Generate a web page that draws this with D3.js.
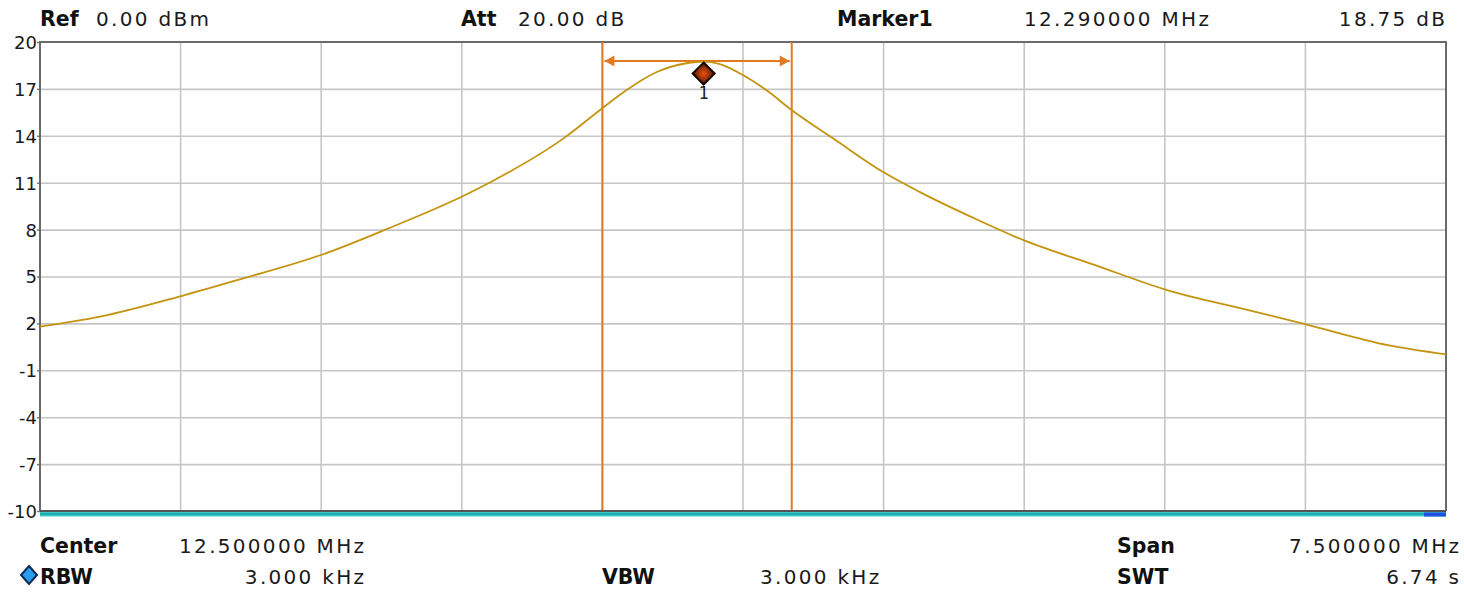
<!DOCTYPE html>
<html>
<head>
<meta charset="utf-8">
<script src="https://cdn.jsdelivr.net/npm/d3@7"></script>
<style>
  html, body { margin: 0; padding: 0; background: #ffffff; }
  svg { display: block; }
  .lbl { font-family: "DejaVu Sans", sans-serif; font-size: 20px; fill: #1a1a1a; letter-spacing: 2.3px; }
  .bold { font-family: "DejaVu Sans", sans-serif; font-weight: bold; font-size: 20.5px; fill: #111; letter-spacing: 0px; }
  .ytick text { font-family: "DejaVu Sans", sans-serif; font-size: 18px; fill: #1a1a1a; }
</style>
</head>
<body>
<svg id="chart" width="1464" height="604"></svg>
<script>
// Sweep trace: frequency (MHz) and level (dB)
const freqMHz = [8.750, 9.070, 9.504, 9.817, 10.253, 10.617, 10.999, 11.204, 11.541, 11.746,
                 11.870, 12.040, 12.199, 12.290, 12.377, 12.502, 12.626, 12.761, 12.982, 13.248,
                 13.444, 13.720, 14.003, 14.378, 14.749, 15.196, 15.503, 15.940, 16.250];
const levelDb = [1.79, 2.43, 3.75, 4.82, 6.39, 8.12, 10.10, 11.36, 13.82, 15.73,
                 16.85, 18.08, 18.64, 18.75, 18.59, 17.87, 16.91, 15.63, 13.82, 11.68,
                 10.40, 8.80, 7.29, 5.73, 4.18, 2.85, 1.94, 0.61, 0.02];

// Axis settings
const centerMHz = 12.5;
const spanMHz = 7.5;
const yMin = -10, yMax = 20;
const yTicks = [-10, -7, -4, -1, 2, 5, 8, 11, 14, 17, 20];
const xDivisions = 10;

// Marker and n-dB-down bandwidth bracket
const marker = { label: "1", freq: 12.29, level: 18.75 };
const bandEdgesMHz = [11.75, 12.76];

// Settings readouts
const headerItems = [
  { key: "Ref", value: "0.00 dBm" },
  { key: "Att", value: "20.00 dB" },
  { key: "Marker1", value: "12.290000 MHz", extra: "18.75 dB" }
];
const footerRow1 = [
  { key: "Center", value: "12.500000 MHz" },
  { key: "Span", value: "7.500000 MHz" }
];
const footerRow2 = [
  { key: "RBW", value: "3.000 kHz" },
  { key: "VBW", value: "3.000 kHz" },
  { key: "SWT", value: "6.74 s" }
];

const svg = d3.select("#chart");
const L = 40, R = 1446, T = 42, B = 511;
const LS = 2.3; // letter spacing of value text

const x = d3.scaleLinear().domain([centerMHz - spanMHz / 2, centerMHz + spanMHz / 2]).range([L, R]);
const y = d3.scaleLinear().domain([yMin, yMax]).range([B, T]);

// Vertical grid
const xGrid = d3.range(1, xDivisions).map(i => x.domain()[0] + i * spanMHz / xDivisions);
svg.append("g").selectAll("line").data(xGrid).join("line")
  .attr("x1", d => x(d)).attr("x2", d => x(d))
  .attr("y1", T).attr("y2", B)
  .attr("stroke", "#c6c6c6").attr("stroke-width", 1.6);

// Horizontal grid + labels
const yAxis = d3.axisLeft(y).tickValues(yTicks).tickSize(-(R - L)).tickFormat(d => String(d)).tickPadding(6);
const gy = svg.append("g").attr("class", "ytick").attr("transform", `translate(${L},0)`).call(yAxis);
gy.select(".domain").remove();
gy.selectAll(".tick line").attr("stroke", "#c6c6c6").attr("stroke-width", 1.6);
gy.selectAll(".tick").filter(d => d === yMax || d === yMin).select("line").attr("stroke", "none");
gy.selectAll(".tick").append("line").attr("x1", -3).attr("x2", 0).attr("stroke", "#777").attr("stroke-width", 1.5);
gy.selectAll(".tick text").attr("dy", "0.36em").attr("x", -3);

// Plot frame
svg.append("path")
  .attr("d", `M${L},${B} V${T} H${R} V${B}`)
  .attr("fill", "none").attr("stroke", "#6a6a6a").attr("stroke-width", 2);

// Band edges and bracket
const bandG = svg.append("g");
bandG.selectAll("line.edge").data(bandEdgesMHz).join("line")
  .attr("class", "edge")
  .attr("x1", d => x(d)).attr("x2", d => x(d))
  .attr("y1", T).attr("y2", B)
  .attr("stroke", "#e27a22").attr("stroke-width", 2);
const by = y(marker.level) - 0.5;
const bx0 = x(bandEdgesMHz[0]), bx1 = x(bandEdgesMHz[1]);
bandG.append("line")
  .attr("x1", bx0 + 2).attr("x2", bx1 - 2).attr("y1", by).attr("y2", by)
  .attr("stroke", "#e27a22").attr("stroke-width", 2);
bandG.append("path")
  .attr("d", `M${bx0 + 2},${by} L${bx0 + 12},${by - 5.5} L${bx0 + 12},${by + 5.5} Z`)
  .attr("fill", "#e27a22");
bandG.append("path")
  .attr("d", `M${bx1 - 2},${by} L${bx1 - 12},${by - 5.5} L${bx1 - 12},${by + 5.5} Z`)
  .attr("fill", "#e27a22");

// Trace
const pts = freqMHz.map((f, i) => [f, levelDb[i]]);
svg.append("path")
  .datum(pts)
  .attr("fill", "none")
  .attr("stroke", "#c4940f")
  .attr("stroke-width", 1.8)
  .attr("d", d3.line().x(d => x(d[0])).y(d => y(d[1])).curve(d3.curveMonotoneX));

// Bottom status bar
svg.append("rect").attr("x", L).attr("y", 512).attr("width", R - L).attr("height", 4.5).attr("fill", "#3cc6c8");
svg.append("line").attr("x1", L).attr("x2", R).attr("y1", 514).attr("y2", 514).attr("stroke", "#13a3aa").attr("stroke-width", 1.5);
svg.append("line").attr("x1", L).attr("x2", R).attr("y1", 511).attr("y2", 511).attr("stroke", "#555").attr("stroke-width", 2);
svg.append("rect").attr("x", R - 22).attr("y", 512.5).attr("width", 22).attr("height", 4).attr("fill", "#2050e0");

// Marker symbol
const defs = svg.append("defs");
const grad = defs.append("radialGradient").attr("id", "mkGrad").attr("cx", "50%").attr("cy", "50%").attr("r", "55%");
grad.append("stop").attr("offset", "0%").attr("stop-color", "#e8520a");
grad.append("stop").attr("offset", "55%").attr("stop-color", "#8e2c06");
grad.append("stop").attr("offset", "100%").attr("stop-color", "#240a02");
const mx = x(marker.freq), my = y(marker.level);
svg.append("path")
  .attr("d", `M${mx},${my + 1} L${mx + 11},${my + 12} L${mx},${my + 23} L${mx - 11},${my + 12} Z`)
  .attr("fill", "url(#mkGrad)").attr("stroke", "#160600").attr("stroke-width", 2);
svg.append("text")
  .attr("x", mx).attr("y", my + 37)
  .attr("text-anchor", "middle")
  .style("font-family", "'DejaVu Sans Mono', monospace").style("font-size", "17px").style("fill", "#222")
  .text(marker.label);

// Header readouts
const headerY = 26;
const hdr = svg.append("g");
hdr.append("text").attr("class", "bold").attr("x", 40).attr("y", headerY).text(headerItems[0].key);
hdr.append("text").attr("class", "lbl").attr("x", 96).attr("y", headerY).text(headerItems[0].value);
hdr.append("text").attr("class", "bold").attr("x", 461).attr("y", headerY).text(headerItems[1].key);
hdr.append("text").attr("class", "lbl").attr("x", 518).attr("y", headerY).text(headerItems[1].value);
hdr.append("text").attr("class", "bold").attr("x", 837).attr("y", headerY).text(headerItems[2].key);
hdr.append("text").attr("class", "lbl").attr("x", 1024).attr("y", headerY).text(headerItems[2].value);
hdr.append("text").attr("class", "lbl").attr("x", 1445 + LS).attr("y", headerY).attr("text-anchor", "end").text(headerItems[2].extra);

// Footer readouts
const f1y = 553, f2y = 584;
const ftr = svg.append("g");
ftr.append("text").attr("class", "bold").attr("x", 40).attr("y", f1y).text(footerRow1[0].key);
ftr.append("text").attr("class", "lbl").attr("x", 364 + LS).attr("y", f1y).attr("text-anchor", "end").text(footerRow1[0].value);
ftr.append("text").attr("class", "bold").attr("x", 1117).attr("y", f1y).text(footerRow1[1].key);
ftr.append("text").attr("class", "lbl").attr("x", 1459 + LS).attr("y", f1y).attr("text-anchor", "end").text(footerRow1[1].value);

ftr.append("path").attr("d", `M29,566 L37,575 L29,584 L21,575 Z`).attr("fill", "#2a9cf0").attr("stroke", "#0a2a55").attr("stroke-width", 2);
ftr.append("text").attr("class", "bold").attr("x", 40).attr("y", f2y).text(footerRow2[0].key);
ftr.append("text").attr("class", "lbl").attr("x", 364 + LS).attr("y", f2y).attr("text-anchor", "end").text(footerRow2[0].value);
ftr.append("text").attr("class", "bold").attr("x", 602).attr("y", f2y).text(footerRow2[1].key);
ftr.append("text").attr("class", "lbl").attr("x", 760).attr("y", f2y).text(footerRow2[1].value);
ftr.append("text").attr("class", "bold").attr("x", 1117).attr("y", f2y).text(footerRow2[2].key);
ftr.append("text").attr("class", "lbl").attr("x", 1459 + LS).attr("y", f2y).attr("text-anchor", "end").text(footerRow2[2].value);
</script>
</body>
</html>
